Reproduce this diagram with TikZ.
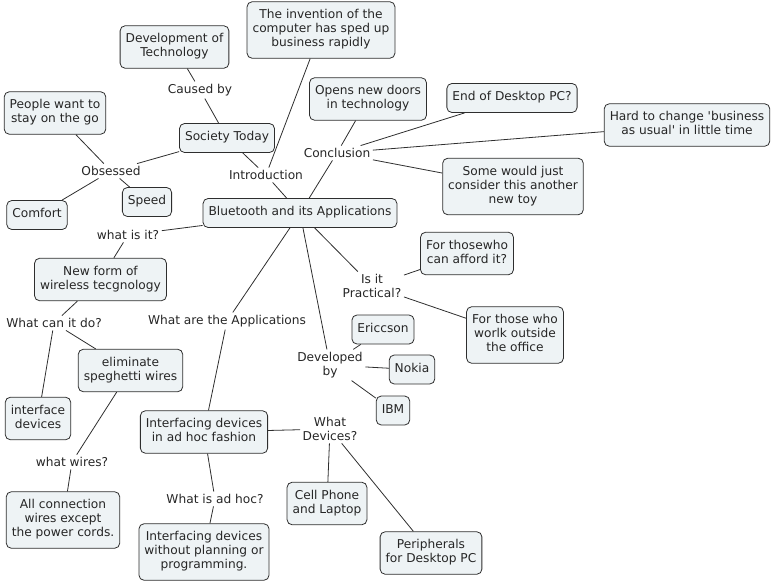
\documentclass[tikz,border=0pt]{standalone}
\usepackage{fontspec}
\setmainfont{DejaVu Sans}[Ligatures=TeXOff]
\definecolor{cfill}{HTML}{EEF3F5}
\definecolor{cline}{HTML}{2E2E2E}
\definecolor{ctext}{HTML}{262626}
\begin{document}
\begin{tikzpicture}[x=1pt,y=-1pt,
  concept/.style={draw=cline,fill=cfill,rounded corners=5pt,line width=0.8pt,
    align=center,inner xsep=5.5pt,inner ysep=7.5pt,text=ctext,
    font=\fontsize{12.2}{14}\selectfont,
    execute at begin node=\strut,execute at end node=\strut},
  lab/.style={align=center,inner sep=2.5pt,text=ctext,
    font=\fontsize{12.2}{14}\selectfont},
  link/.style={draw=cline,line width=0.8pt}]
\useasboundingbox (0,0) rectangle (773,584);
% concepts
\node[concept] (dev) at (174.5,47) {Development of\\Technology};
\node[concept] (inv) at (321,30) {The invention of the\\computer has sped up\\business rapidly};
\node[concept] (ppl) at (55,113) {People want to\\stay on the go};
\node[concept] (soc) at (227,138) {Society Today};
\node[concept] (com) at (37,215) {Comfort};
\node[concept] (spd) at (147,202) {Speed};
\node[concept] (bt) at (300,213) {Bluetooth and its Applications};
\node[concept] (opn) at (368,99) {Opens new doors\\in technology};
\node[concept] (end) at (512,98) {End of Desktop PC?};
\node[concept] (hard) at (687,125) {Hard to change 'business\\as usual' in little time};
\node[concept] (toy) at (513,186.5) {Some would just\\consider this another\\new toy};
\node[concept] (aff) at (467,253.5) {For thosewho\\can afford it?};
\node[concept] (wrk) at (515,335) {For those who\\worlk outside\\the office};
\node[concept] (eri) at (383,329.5) {Ericcson};
\node[concept] (nok) at (412,369.5) {Nokia};
\node[concept] (ibm) at (393,410.5) {IBM};
\node[concept] (cel) at (327,503.5) {Cell Phone\\and Laptop};
\node[concept] (per) at (431,553) {Peripherals\\for Desktop PC};
\node[concept] (new) at (100.5,279.5) {New form of\\wireless tecgnology};
\node[concept] (eli) at (130.5,370.5) {eliminate\\speghetti wires};
\node[concept] (ifd) at (38,418.5) {interface\\devices};
\node[concept] (iah) at (204,432) {Interfacing devices\\in ad hoc fashion};
\node[concept] (all) at (63,520) {All connection\\wires except\\the power cords.};
\node[concept] (wpl) at (204,552) {Interfacing devices\\without planning or\\programming.};
% linking phrases
\node[lab] (lcb) at (200,90) {Caused by};
\node[lab] (lob) at (111,171) {Obsessed};
\node[lab] (lin) at (266,175) {Introduction};
\node[lab] (lco) at (337,153) {Conclusion};
\node[lab] (lwi) at (128,235) {what is it?};
\node[lab] (lwc) at (54,323) {What can it do?};
\node[lab] (lap) at (227,321) {What are the Applications};
\node[lab] (lpr) at (372,286) {Is it\\Practical?};
\node[lab] (ldb) at (330,365) {Developed\\by};
\node[lab] (lwd) at (330,429) {What\\Devices?};
\node[lab] (lww) at (72,462) {what wires?};
\node[lab] (lah) at (215,499) {What is ad hoc?};
% links
\draw[link] (bt) -- (lin);
\draw[link] (lin) -- (soc);
\draw[link] (lin) -- (inv);
\draw[link] (soc) -- (lcb);
\draw[link] (lcb) -- (dev);
\draw[link] (soc) -- (lob);
\draw[link] (lob) -- (ppl);
\draw[link] (lob) -- (com);
\draw[link] (lob) -- (spd);
\draw[link] (bt) -- (lco);
\draw[link] (lco) -- (opn);
\draw[link] (lco) -- (end);
\draw[link] (lco) -- (hard);
\draw[link] (lco) -- (toy);
\draw[link] (bt) -- (lpr);
\draw[link] (lpr) -- (aff);
\draw[link] (lpr) -- (wrk);
\draw[link] (bt) -- (ldb);
\draw[link] (ldb) -- (eri);
\draw[link] (ldb) -- (nok);
\draw[link] (ldb) -- (ibm);
\draw[link] (bt) -- (lap);
\draw[link] (lap) -- (iah);
\draw[link] (iah) -- (lwd);
\draw[link] (lwd) -- (cel);
\draw[link] (lwd) -- (per);
\draw[link] (iah) -- (lah);
\draw[link] (lah) -- (wpl);
\draw[link] (bt) -- (lwi);
\draw[link] (lwi) -- (new);
\draw[link] (new) -- (lwc);
\draw[link] (lwc) -- (ifd);
\draw[link] (lwc) -- (eli);
\draw[link] (eli) -- (lww);
\draw[link] (lww) -- (all);
\end{tikzpicture}
\end{document}
